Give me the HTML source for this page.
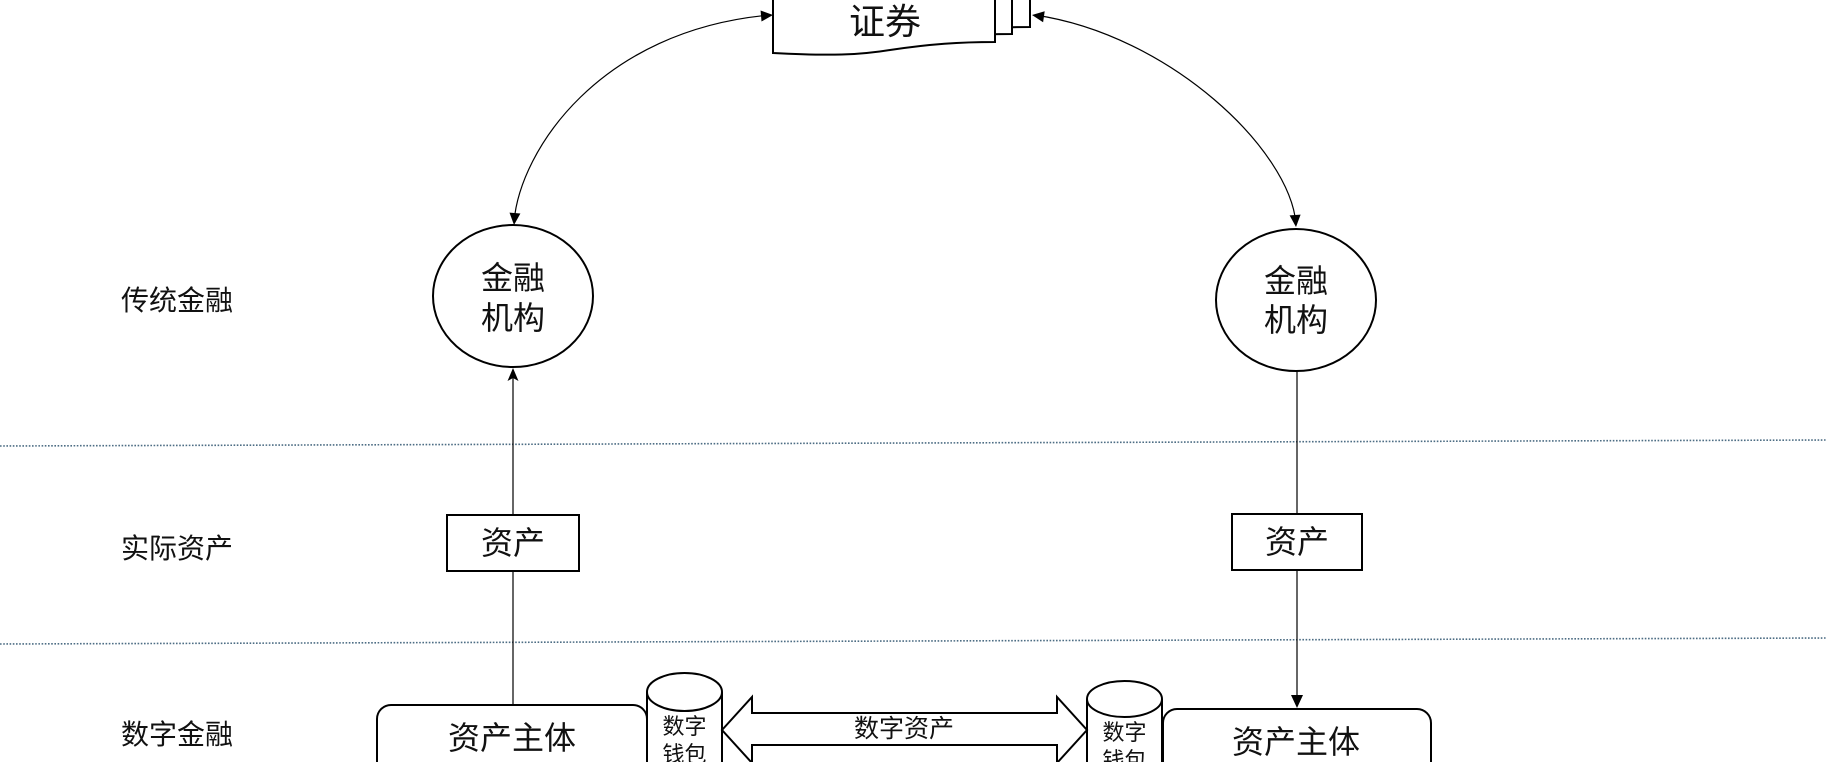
<!DOCTYPE html>
<html>
<head>
<meta charset="utf-8">
<style>
  html, body { margin:0; padding:0; background:#ffffff; }
  body { width:1827px; height:762px; overflow:hidden; }
  svg { display:block; }
  text { font-family: "Liberation Sans", "Noto Sans CJK SC", "WenQuanYi Zen Hei", sans-serif; fill:#111; }
</style>
</head>
<body>
<svg width="1827" height="762" viewBox="0 0 1827 762" xmlns="http://www.w3.org/2000/svg">
  <rect x="0" y="0" width="1827" height="762" fill="#ffffff"/>

  <!-- dotted lane separators -->
  <line x1="0" y1="446" x2="1827" y2="440" stroke="#4d6d84" stroke-width="1.6" stroke-dasharray="1.6 1.6"/>
  <line x1="0" y1="644" x2="1827" y2="638" stroke="#4d6d84" stroke-width="1.6" stroke-dasharray="1.6 1.6"/>

  <!-- lane labels -->
  <text x="177" y="310" font-size="28" text-anchor="middle">传统金融</text>
  <text x="177" y="558" font-size="28" text-anchor="middle">实际资产</text>
  <text x="177" y="744" font-size="28" text-anchor="middle">数字金融</text>

  <!-- multi-document 证券 -->
  <path d="M808,-20 L1030,-20 L1030,27 C 995,27 965,29 925,35 C 895,40 865,40 808,38 Z" fill="#fff" stroke="#000" stroke-width="2"/>
  <path d="M790,-20 L1012,-20 L1012,34 C 977,34 947,36 907,42 C 877,47 847,47 790,45 Z" fill="#fff" stroke="#000" stroke-width="2"/>
  <path d="M773,-20 L995,-20 L995,42 C 960,42 930,44 890,50 C 860,55 830,56 773,53 Z" fill="#fff" stroke="#000" stroke-width="2"/>
  <text x="885" y="34" font-size="36" text-anchor="middle">证券</text>

  <!-- curved connectors -->
  <path d="M514,222 C 520,150 600,30 770,15" fill="none" stroke="#000" stroke-width="1.2"/>
  <polygon points="773,15 761.5,21.5 760.6,10.5" fill="#000"/>
  <polygon points="514,225 520.4,213.5 509.5,212.6" fill="#000"/>

  <path d="M1296,224 C 1290,150 1170,35 1035,15" fill="none" stroke="#000" stroke-width="1.2"/>
  <polygon points="1032,15 1044.7,11.3 1043.1,22.2" fill="#000"/>
  <polygon points="1296,227 1300.6,214.6 1289.6,215.4" fill="#000"/>

  <!-- circles -->
  <ellipse cx="513" cy="296" rx="80" ry="71" fill="#fff" stroke="#000" stroke-width="2"/>
  <text x="513" y="289" font-size="32" text-anchor="middle">金融</text>
  <text x="513" y="329" font-size="32" text-anchor="middle">机构</text>

  <ellipse cx="1296" cy="300" rx="80" ry="71" fill="#fff" stroke="#000" stroke-width="2"/>
  <text x="1296" y="292" font-size="32" text-anchor="middle">金融</text>
  <text x="1296" y="331" font-size="32" text-anchor="middle">机构</text>

  <!-- left vertical connector -->
  <line x1="513" y1="378" x2="513" y2="515" stroke="#000" stroke-width="1.2"/>
  <line x1="513" y1="571" x2="513" y2="705" stroke="#000" stroke-width="1.2"/>
  <polygon points="513,368 507.5,381 513,378 518.5,381" fill="#000"/>

  <!-- right vertical connector -->
  <line x1="1297" y1="371" x2="1297" y2="514" stroke="#000" stroke-width="1.2"/>
  <line x1="1297" y1="570" x2="1297" y2="698" stroke="#000" stroke-width="1.2"/>
  <polygon points="1297,708 1291,695 1303,695" fill="#000"/>

  <!-- asset boxes -->
  <rect x="447" y="515" width="132" height="56" fill="#fff" stroke="#000" stroke-width="2"/>
  <text x="513" y="554" font-size="32" text-anchor="middle">资产</text>

  <rect x="1232" y="514" width="130" height="56" fill="#fff" stroke="#000" stroke-width="2"/>
  <text x="1297" y="553" font-size="32" text-anchor="middle">资产</text>

  <!-- bottom rounded rects -->
  <rect x="377" y="705" width="270" height="80" rx="14" ry="14" fill="#fff" stroke="#000" stroke-width="2"/>
  <text x="512" y="749" font-size="32" text-anchor="middle">资产主体</text>

  <rect x="1163" y="709" width="268" height="80" rx="14" ry="14" fill="#fff" stroke="#000" stroke-width="2"/>
  <text x="1296" y="753" font-size="32" text-anchor="middle">资产主体</text>

  <!-- cylinders -->
  <path d="M647,692 L647,790 L722,790 L722,692" fill="#fff" stroke="#000" stroke-width="2"/>
  <ellipse cx="684.5" cy="692" rx="37.5" ry="19" fill="#fff" stroke="#000" stroke-width="2"/>
  <text x="684.5" y="734" font-size="22" text-anchor="middle">数字</text>
  <text x="684.5" y="762" font-size="22" text-anchor="middle">钱包</text>

  <path d="M1087,699 L1087,790 L1162,790 L1162,699" fill="#fff" stroke="#000" stroke-width="2"/>
  <ellipse cx="1124.5" cy="699" rx="37.5" ry="18" fill="#fff" stroke="#000" stroke-width="2"/>
  <text x="1124.5" y="740" font-size="22" text-anchor="middle">数字</text>
  <text x="1124.5" y="768" font-size="22" text-anchor="middle">钱包</text>

  <!-- double block arrow -->
  <polygon points="722,730 752,697 752,713 1057,713 1057,697 1087,730 1057,763 1057,745 752,745 752,763" fill="#fff" stroke="#000" stroke-width="2" stroke-linejoin="miter"/>
  <text x="904" y="737" font-size="25" text-anchor="middle">数字资产</text>
</svg>
</body>
</html>
